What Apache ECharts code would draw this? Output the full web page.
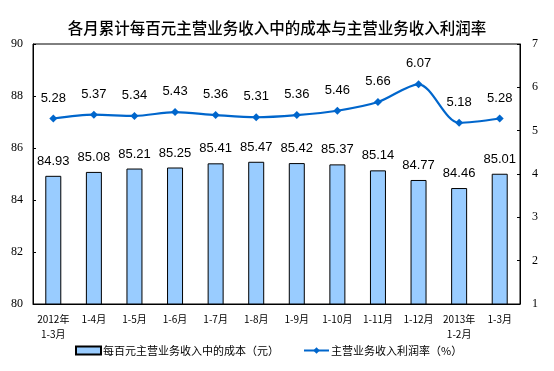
<!DOCTYPE html>
<html><head><meta charset="utf-8">
<script src="https://cdn.jsdelivr.net/npm/echarts@6/dist/echarts.min.js"></script>
<style>html,body{margin:0;padding:0;background:#fff}#c{width:554px;height:371px}</style>
</head><body><div id="c"></div>
<script>
var categories = ["2012年\n1-3月","1-4月","1-5月","1-6月","1-7月","1-8月","1-9月","1-10月","1-11月","1-12月","2013年\n1-2月","1-3月"];
var costValues = [84.93,85.08,85.21,85.25,85.41,85.47,85.42,85.37,85.14,84.77,84.46,85.01];
var profitRates = [5.28,5.37,5.34,5.43,5.36,5.31,5.36,5.46,5.66,6.07,5.18,5.28];
var titleText = "各月累计每百元主营业务收入中的成本与主营业务收入利润率";
var costName = "每百元主营业务收入中的成本（元）";
var rateName = "主营业务收入利润率（%）";

var chart = echarts.init(document.getElementById('c'));
var serif = "'Liberation Serif','Times New Roman',serif";
var sans = "'Liberation Sans',Arial,'Noto Sans CJK SC',sans-serif";
chart.setOption({
  animation:false,
  title:{text:titleText,left:'center',top:15,textStyle:{fontFamily:"'Noto Sans CJK SC',sans-serif",fontSize:15.5,fontWeight:500,color:'#000'}},
  grid:{left:33,right:34,top:44,bottom:67,show:true,borderColor:'#000',borderWidth:1},
  legend:{bottom:10,left:70,itemGap:24,itemWidth:25,itemHeight:8,
    textStyle:{fontFamily:"'Noto Sans CJK SC',sans-serif",fontSize:11,color:'#000',padding:[0,0,0,-3]},
    data:[{name:costName,icon:'rect'},{name:rateName}]},
  xAxis:{type:'category',data:categories,
    axisLine:{lineStyle:{color:'#000'}},
    axisTick:{inside:true,length:3,lineStyle:{color:'#000'}},
    axisLabel:{interval:0,fontSize:10,color:'#000',margin:8,lineHeight:15,fontFamily:"'Noto Sans CJK SC',sans-serif"}},
  yAxis:[
    {type:'value',min:80,max:90,interval:2,splitLine:{show:false},
     axisLine:{show:true,lineStyle:{color:'#000'}},axisTick:{show:true,inside:true,length:3,lineStyle:{color:'#000'}},
     axisLabel:{fontFamily:serif,fontSize:12,color:'#000',margin:10}},
    {type:'value',min:1,max:7,interval:1,splitLine:{show:false},position:'right',
     axisLine:{show:true,lineStyle:{color:'#000'}},axisTick:{show:true,inside:true,length:3,lineStyle:{color:'#000'}},
     axisLabel:{fontFamily:serif,fontSize:12,color:'#000',margin:12}}
  ],
  series:[
    {name:costName,type:'bar',data:costValues,barWidth:16,
     itemStyle:{color:'#99ccff',borderColor:'#000',borderWidth:1},
     label:{show:true,position:'top',distance:8,fontFamily:sans,fontSize:13,color:'#000'}},
    {name:rateName,type:'line',yAxisIndex:1,data:profitRates,smooth:0.3,
     symbol:'diamond',symbolSize:8,
     lineStyle:{color:'#0066cc',width:2.2},itemStyle:{color:'#0066cc'},
     label:{show:true,position:'top',distance:10,fontFamily:sans,fontSize:13,color:'#000'}}
  ]
});
</script></body></html>
